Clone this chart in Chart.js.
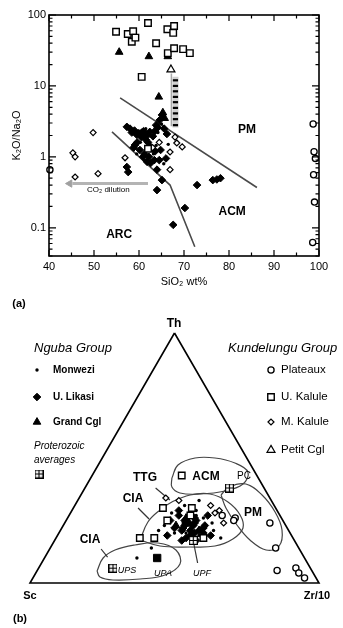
<!DOCTYPE html>
<html>
<head>
<meta charset="utf-8">
<script src="https://cdn.jsdelivr.net/npm/chart.js@4.4.1/dist/chart.umd.min.js"></script>
<style>
  body { margin: 0; background: #fff; }
  .fig { width: 343px; }
  canvas { display: block; }
</style>
</head>
<body>
<div class="fig">
  <canvas id="siChart" width="343" height="312"></canvas>
  <canvas id="ternChart" width="343" height="316"></canvas>
</div>
<script>
const FONT = '"Liberation Sans", Arial, Helvetica, sans-serif';

// ---- (a) SiO2 wt% vs K2O/Na2O ----
const uKalule = [[54.9, 58], [57.5, 54], [58.7, 59], [58.4, 42], [59.2, 48], [62.0, 77], [63.8, 40],
  [60.6, 13.4], [66.3, 63], [67.8, 70], [67.6, 56], [66.4, 29], [67.8, 34], [69.8, 33], [71.3, 29], [62.0, 1.3]];
const grandCgl = [[55.6, 30], [62.2, 26], [64.4, 7], [66.4, 26], [65.3, 4.2], [65.7, 3.5]];
const petitCgl = [[67.1, 17]];
const plateaux = [[40.2, 0.66], [98.7, 2.9], [98.9, 1.18], [99.2, 0.95], [98.8, 0.56], [99.0, 0.23], [98.6, 0.062]];
const mKalule = [[45.3, 1.14], [45.8, 1.0], [49.8, 2.2], [45.8, 0.52], [50.9, 0.58], [56.9, 0.97],
  [66.9, 1.17], [66.9, 0.66], [69.6, 1.38], [68.0, 1.9], [68.4, 1.57], [64.5, 1.6], [63.0, 1.35]];
const uLikasi = [[57.3, 2.65], [58.4, 2.2], [59.5, 2.05], [60.6, 2.2], [61.3, 2.1], [62.4, 2.25], [63.1, 1.95],
  [63.8, 2.8], [64.6, 3.3], [65.1, 3.9], [65.6, 2.5], [66.2, 2.1], [59.1, 1.47], [60.2, 1.25], [60.9, 1.0],
  [61.8, 0.85], [62.6, 0.82], [63.4, 0.9], [64.0, 0.66], [65.1, 0.47], [64.0, 0.34], [72.9, 0.40], [76.4, 0.47],
  [77.3, 0.48], [78.1, 0.50], [70.2, 0.19], [67.6, 0.11], [57.6, 0.61], [57.3, 0.72], [58.8, 1.35], [62.0, 1.6],
  [64.8, 1.25], [66.0, 0.95], [58.0, 2.5], [59.0, 2.35], [60.0, 2.15], [61.0, 2.3], [62.0, 2.05], [63.5, 2.3],
  [64.2, 2.6], [60.5, 1.9], [61.5, 1.75], [59.6, 1.6], [62.5, 1.4], [63.6, 1.2], [61.2, 1.1], [62.2, 1.0], [64.5, 0.9]];
const monwezi = [[58.0, 2.4], [59.8, 2.3], [61.5, 2.5], [62.8, 2.0], [64.2, 2.2], [65.0, 2.9], [60.3, 1.6],
  [61.6, 1.3], [63.2, 1.1], [63.8, 1.45], [65.5, 0.8], [61.2, 0.9], [66.5, 1.5], [59.5, 1.1]];
const monweziStack = [[68.1, 12], [68.1, 10], [68.1, 8.4], [68.1, 7], [68.1, 5.9], [68.1, 4.9], [68.1, 4.1], [68.1, 3.4], [68.1, 2.8]];
const stackBand = [[68.1, 13.5], [68.1, 2.6]];
const petitTrail = [[67.2, 15], [67.2, 2.7]];
const pmLine = [[55.8, 6.8], [86.2, 0.37]];
const arcLine = [[54.0, 2.25], [66.9, 0.40], [72.4, 0.054]];
const co2Line = [[62.0, 0.42], [45.2, 0.42]];
const co2Head = [[44.6, 0.42]];
const siTicks = [40, 50, 60, 70, 80, 90, 100];
const ratioTicks = [0.1, 1, 10, 100];

const siLabels = [
  { text: "PM", x: 84, y: 2.4, font: "bold 12px " + FONT },
  { text: "ACM", x: 80.7, y: 0.168, font: "bold 12px " + FONT },
  { text: "ARC", x: 55.6, y: 0.08, font: "bold 12px " + FONT },
  { text: "CO₂ dilution", x: 53.2, y: 0.34, font: "8px " + FONT },
];

// marker styles shared by both plots and the legend
const ST = {
  uKalule: { pointStyle: "rect", radius: 4.6, backgroundColor: "#fff", borderColor: "#000", borderWidth: 1.4 },
  petitCgl: { pointStyle: "triangle", radius: 4.6, backgroundColor: "#fff", borderColor: "#000", borderWidth: 1.2 },
  grandCgl: { pointStyle: "triangle", radius: 4.4, backgroundColor: "#000", borderColor: "#000", borderWidth: 1 },
  plateaux: { pointStyle: "circle", radius: 3.1, backgroundColor: "#fff", borderColor: "#000", borderWidth: 1.3 },
  mKalule: { pointStyle: "rectRot", radius: 3, backgroundColor: "#fff", borderColor: "#000", borderWidth: 1.2 },
  uLikasi: { pointStyle: "rectRot", radius: 3.8, backgroundColor: "#000", borderColor: "#000", borderWidth: 1 },
  monwezi: { pointStyle: "circle", radius: 1.7, backgroundColor: "#000", borderColor: "#000", borderWidth: 0 },
};

const xy = (arr) => arr.map(([x, y]) => ({ x, y }));

const scatterSet = (data, st) => ({
  data,
  showLine: false,
  clip: false,
  pointStyle: st.pointStyle,
  pointRadius: st.radius,
  pointBackgroundColor: st.backgroundColor,
  pointBorderColor: st.borderColor,
  pointBorderWidth: st.borderWidth,
});

const lineSet = (data, color, width, extra = {}) => ({
  data,
  showLine: true,
  clip: false,
  borderColor: color,
  borderWidth: width,
  pointRadius: 0,
  fill: false,
  ...extra,
});

const siDecor = {
  id: "siDecor",
  afterDraw(chart) {
    const { ctx, chartArea: a, scales: { x, y } } = chart;
    ctx.save();
    ctx.strokeStyle = "#000";
    ctx.lineWidth = 1.6;
    ctx.strokeRect(a.left, a.top, a.right - a.left, a.bottom - a.top);

    // inward tick marks on all four sides
    ctx.lineWidth = 1.2;
    ctx.beginPath();
    for (let v = 40; v <= 100; v += 5) {
      const px = x.getPixelForValue(v);
      const len = v % 10 === 0 ? 6 : 3.5;
      ctx.moveTo(px, a.bottom); ctx.lineTo(px, a.bottom - len);
      ctx.moveTo(px, a.top); ctx.lineTo(px, a.top + len);
    }
    for (let e = -2; e <= 2; e++) {
      for (let m = 1; m <= 9; m++) {
        const v = m * Math.pow(10, e);
        if (v < y.min - 1e-9 || v > y.max + 1e-9) continue;
        const py = y.getPixelForValue(v);
        const len = m === 1 ? 7 : 3.5;
        ctx.moveTo(a.left, py); ctx.lineTo(a.left + len, py);
        ctx.moveTo(a.right, py); ctx.lineTo(a.right - len, py);
      }
    }
    ctx.stroke();

    ctx.fillStyle = "#000";
    ctx.textAlign = "center";
    ctx.textBaseline = "middle";
    siLabels.forEach((l) => {
      ctx.font = l.font;
      ctx.fillText(l.text, x.getPixelForValue(l.x), y.getPixelForValue(l.y));
    });
    ctx.font = "bold 11px " + FONT;
    ctx.fillText("(a)", 19, 304);
    ctx.restore();
  },
};

new Chart(document.getElementById("siChart"), {
  type: "scatter",
  data: {
    datasets: [
      scatterSet(xy(uKalule), ST.uKalule),
      scatterSet(xy(petitCgl), ST.petitCgl),
      scatterSet(xy(grandCgl), ST.grandCgl),
      scatterSet(xy(plateaux), ST.plateaux),
      scatterSet(xy(mKalule), ST.mKalule),
      scatterSet(xy(uLikasi), ST.uLikasi),
      scatterSet(xy(monwezi), ST.monwezi),
      { ...scatterSet(xy(monweziStack), ST.monwezi), pointStyle: "line", pointRadius: 2.6, pointBorderWidth: 2.2 },
      lineSet(xy(stackBand), "#cfcfcf", 6),
      lineSet(xy(petitTrail), "#a8a8a8", 1.5),
      { ...scatterSet(xy(co2Head), { pointStyle: "triangle", radius: 4.2, backgroundColor: "#a0a0a0", borderColor: "#a0a0a0", borderWidth: 1 }), pointRotation: -90 },
      lineSet(xy(co2Line), "#b4b4b4", 3),
      lineSet(xy(pmLine), "#4a4a4a", 1.6),
      lineSet(xy(arcLine), "#4a4a4a", 1.6),
    ],
  },
  options: {
    responsive: false,
    animation: false,
    events: [],
    devicePixelRatio: 1,
    layout: { padding: { left: 0, top: 15, right: 24, bottom: 12 } },
    plugins: { legend: { display: false }, tooltip: { enabled: false } },
    scales: {
      x: {
        type: "linear",
        min: 40,
        max: 100,
        afterBuildTicks(axis) { axis.ticks = siTicks.map((v) => ({ value: v })); },
        afterFit(axis) { axis.height = 44; },
        grid: { display: false, drawTicks: false },
        border: { display: false },
        ticks: { padding: 4, color: "#000", font: { size: 11, family: FONT } },
        title: { display: true, text: "SiO₂ wt%", color: "#000", font: { size: 11, family: FONT }, padding: { top: 0, bottom: 11 } },
      },
      y: {
        type: "logarithmic",
        min: 0.04,
        max: 100,
        afterBuildTicks(axis) { axis.ticks = ratioTicks.map((v) => ({ value: v })); },
        afterFit(axis) { axis.width = 49; },
        grid: { display: false, drawTicks: false },
        border: { display: false },
        ticks: { padding: 3, color: "#000", font: { size: 11, family: FONT }, callback: (v) => String(v) },
        title: { display: true, text: "K₂O/Na₂O", color: "#000", font: { size: 11, family: FONT }, padding: { top: 10, bottom: 0 } },
      },
    },
  },
  plugins: [siDecor],
});

// ---- (b) Th - Sc - Zr/10 ternary, compositions as [Th, Sc, Zr/10] ----
const tUKalule = [[43, 26, 31], [30, 29, 41], [27, 31, 42], [18, 31, 51], [18, 53, 29], [18, 48, 34], [30, 39, 31], [25, 40, 35]];
const tPlateaux = [[26, 16, 58], [24, 5, 71], [14, 8, 78], [5, 12, 83], [6, 5, 89], [4, 5, 91], [2, 4, 94], [27, 20, 53], [25, 17, 58]];
const tMKalule = [[28, 22, 50], [24, 21, 55], [31, 22, 47], [33, 32, 35], [34, 36, 30], [29, 20, 51]];
const tULikasi = [[25, 39, 36], [22, 39, 39], [27, 35, 38], [23, 35, 42], [19, 35, 46], [25, 30, 45], [21, 31, 48],
  [23, 28, 49], [19, 28, 53], [17, 39, 44], [19, 43, 38], [29, 34, 37], [17, 34, 49], [27, 25, 48], [21, 37, 42], [24, 33, 43],
  [22, 36, 42], [20, 33, 47], [24, 31, 45], [26, 30, 44], [18, 37, 45], [22, 29, 49], [20, 30, 50], [25, 34, 41], [21, 34, 45], [23, 32, 45]];
const tMonwezi = [[28, 37, 35], [28, 31, 41], [29, 28, 43], [26, 27, 47], [24, 25, 51], [23, 42, 35], [20, 40, 40],
  [22, 33, 45], [21, 26, 53], [18, 25, 57], [21, 45, 34], [14, 51, 35], [10, 58, 32], [31, 31, 38], [33, 25, 42],
  [24, 35, 41], [20, 36, 44], [26, 32, 42], [22, 30, 48], [19, 32, 49], [27, 29, 44]];
const tGrandCgl = [[23, 38, 39], [21, 31, 48], [26, 33, 41]];
const tAverages = [[38, 12, 50], [17, 35, 48], [6, 69, 26]]; // PC, UPF, UPS
const tUpa = [[10, 51, 39]];

const fieldCiaLow = [[4.8, 74.4, 20.8], [10, 69.7, 20.3], [13.2, 64, 22.8], [15.2, 56.1, 28.7], [16, 47.7, 36.3],
  [13.2, 42.9, 43.9], [7.6, 44.3, 48.1], [3.2, 51.7, 45.1], [1.6, 61.1, 37.3], [1.2, 70.7, 28.1], [2.4, 74.6, 23]];
const fieldMain = [[17.2, 53.3, 29.5], [24.4, 47, 28.6], [29.2, 40.4, 30.4], [32.4, 34.7, 32.9], [35.2, 27, 37.8],
  [35.6, 19.9, 44.5], [32.4, 15.3, 52.3], [27.2, 13.7, 59.1], [22, 15.3, 62.7], [17.6, 21, 61.4], [14.8, 28.6, 56.6],
  [14.4, 37.4, 48.2], [14.8, 47.6, 37.6]];
const fieldAcm = [[42, 29.9, 28.1], [47.2, 25.2, 27.6], [50, 17.9, 32.1], [50, 11, 39], [48, 5.1, 46.9], [44.4, 2.4, 53.2],
  [39.6, 6.5, 53.9], [36.8, 14.1, 49.1], [35.6, 23.4, 41], [36, 30.1, 33.9], [38.4, 31.7, 29.9]];
const fieldPm = [[35.2, 16.3, 48.5], [38.4, 11.9, 49.7], [39.6, 5.5, 54.9], [35.2, 2.1, 62.7], [28.4, 1, 70.6],
  [21.2, 2.2, 76.6], [14.8, 6.4, 78.8], [13.2, 11.7, 75.1], [17.2, 15.3, 67.5], [23.2, 16.8, 60], [30, 17.2, 52.8]];
const leaders = [
  [[38.4, 37.9, 24.7], [33.2, 35, 31.8]],
  [[30, 47.6, 22.4], [25.6, 46, 28.4]],
  [[13.6, 68.6, 17.8], [10.4, 68.4, 21.8]],
  [[15.6, 35.5, 48.9], [8, 38, 54]],
];
const apexes = [[100, 0, 0], [0, 100, 0], [0, 0, 100], [100, 0, 0]];

const H = Math.sqrt(3) / 2;
const tern = (arr) => arr.map(([th, sc, zr]) => {
  const s = th + sc + zr;
  return { x: zr / s + th / s / 2, y: (th / s) * H };
});
const loop = (arr) => tern(arr.concat([arr[0]]));

// square-with-cross marker for the Proterozoic averages
function gridBox(size) {
  const c = document.createElement("canvas");
  c.width = c.height = size;
  const g = c.getContext("2d");
  g.fillStyle = "#fff";
  g.fillRect(0, 0, size, size);
  g.strokeStyle = "#000";
  g.lineWidth = 1.2;
  g.strokeRect(0.6, 0.6, size - 1.2, size - 1.2);
  g.beginPath();
  g.moveTo(size / 2, 0); g.lineTo(size / 2, size);
  g.moveTo(0, size / 2); g.lineTo(size, size / 2);
  g.stroke();
  return c;
}
const boxMark = gridBox(9);
ST.average = { pointStyle: boxMark, radius: 4.5, backgroundColor: "#fff", borderColor: "#000", borderWidth: 1 };
ST.upa = { pointStyle: "rect", radius: 5.2, backgroundColor: "#000", borderColor: "#000", borderWidth: 1 };

const ternLabels = [
  { text: "TTG", x: 145, y: 166, font: "bold 12px " + FONT },
  { text: "ACM", x: 206, y: 165, font: "bold 12px " + FONT },
  { text: "CIA", x: 133, y: 187, font: "bold 12px " + FONT },
  { text: "CIA", x: 90, y: 228, font: "bold 12px " + FONT },
  { text: "PM", x: 253, y: 201, font: "bold 12px " + FONT },
  { text: "PC", x: 244, y: 164, font: "10px " + FONT },
  { text: "UPS", x: 127, y: 258, font: "italic 9px " + FONT },
  { text: "UPA", x: 163, y: 261, font: "italic 9px " + FONT },
  { text: "UPF", x: 202, y: 261, font: "italic 9px " + FONT },
  { text: "Th", x: 174, y: 12, font: "bold 12px " + FONT },
  { text: "Sc", x: 30, y: 284, font: "bold 11px " + FONT },
  { text: "Zr/10", x: 317, y: 284, font: "bold 11px " + FONT },
  { text: "(b)", x: 20, y: 307, font: "bold 11px " + FONT },
];

const legendLeft = [
  { st: "monwezi", text: "Monwezi", y: 58 },
  { st: "uLikasi", text: "U. Likasi", y: 85 },
  { st: "grandCgl", text: "Grand Cgl", y: 110 },
];
const legendRight = [
  { st: "plateaux", text: "Plateaux", y: 58 },
  { st: "uKalule", text: "U. Kalule", y: 85 },
  { st: "mKalule", text: "M. Kalule", y: 110 },
  { st: "petitCgl", text: "Petit Cgl", y: 138 },
];

function legendMark(ctx, st, x, y) {
  ctx.save();
  ctx.fillStyle = st.backgroundColor;
  ctx.strokeStyle = st.borderColor;
  ctx.lineWidth = st.borderWidth;
  Chart.helpers.drawPoint(ctx, { pointStyle: st.pointStyle, radius: st.radius, rotation: 0, borderWidth: st.borderWidth }, x, y);
  ctx.restore();
}

const ternDecor = {
  id: "ternDecor",
  afterDraw(chart) {
    const { ctx } = chart;
    ctx.save();
    ctx.fillStyle = "#000";
    ctx.textBaseline = "middle";
    ctx.textAlign = "center";
    ternLabels.forEach((l) => {
      ctx.font = l.font;
      ctx.fillText(l.text, l.x, l.y);
    });

    ctx.textAlign = "left";
    ctx.font = "italic 13px " + FONT;
    ctx.fillText("Nguba Group", 34, 36);
    ctx.fillText("Kundelungu Group", 228, 36);

    ctx.font = "bold 10px " + FONT;
    legendLeft.forEach((e) => {
      legendMark(ctx, ST[e.st], 37, e.y);
      ctx.fillStyle = "#000";
      ctx.fillText(e.text, 53, e.y);
    });
    ctx.font = "italic 10px " + FONT;
    ctx.fillText("Proterozoic", 34, 134);
    ctx.fillText("averages", 34, 148);
    legendMark(ctx, ST.average, 39, 162);

    ctx.font = "11.5px " + FONT;
    legendRight.forEach((e) => {
      legendMark(ctx, ST[e.st], 271, e.y);
      ctx.fillStyle = "#000";
      ctx.fillText(e.text, 281, e.y);
    });
    ctx.restore();
  },
};

new Chart(document.getElementById("ternChart"), {
  type: "scatter",
  data: {
    datasets: [
      scatterSet(tern(tUKalule), ST.uKalule),
      scatterSet(tern(tAverages), ST.average),
      scatterSet(tern(tUpa), ST.upa),
      scatterSet(tern(tGrandCgl), ST.grandCgl),
      scatterSet(tern(tMKalule), ST.mKalule),
      scatterSet(tern(tPlateaux), ST.plateaux),
      scatterSet(tern(tULikasi), ST.uLikasi),
      scatterSet(tern(tMonwezi), ST.monwezi),
      ...leaders.map((l) => lineSet(tern(l), "#333", 1.2)),
      lineSet(loop(fieldCiaLow), "#444", 1.2, { tension: 0.4 }),
      lineSet(loop(fieldMain), "#444", 1.2, { tension: 0.4 }),
      lineSet(loop(fieldAcm), "#444", 1.2, { tension: 0.4 }),
      lineSet(loop(fieldPm), "#444", 1.2, { tension: 0.4 }),
      lineSet(tern(apexes), "#000", 1.6),
    ],
  },
  options: {
    responsive: false,
    animation: false,
    events: [],
    devicePixelRatio: 1,
    layout: { padding: { left: 30, top: 21, right: 24, bottom: 45 } },
    plugins: { legend: { display: false }, tooltip: { enabled: false } },
    scales: {
      x: { type: "linear", min: 0, max: 1, display: false },
      y: { type: "linear", min: 0, max: H, display: false },
    },
  },
  plugins: [ternDecor],
});
</script>
</body>
</html>
